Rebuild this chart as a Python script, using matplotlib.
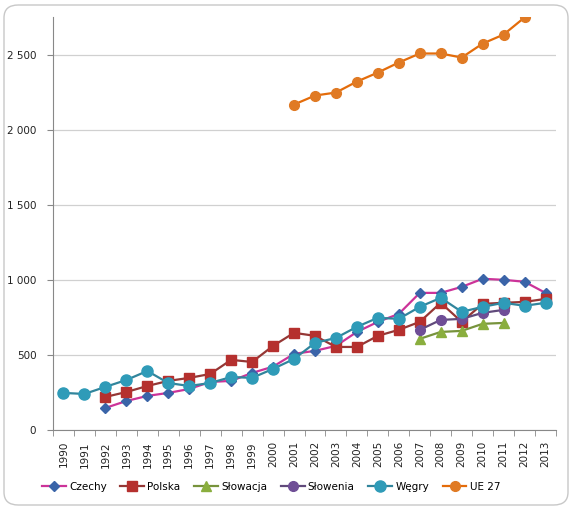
import matplotlib
matplotlib.use("Agg")
import matplotlib.pyplot as plt
import numpy as np
from matplotlib.patches import FancyBboxPatch
from matplotlib.ticker import FuncFormatter, MultipleLocator

plt.rcParams['font.family'] = ['DejaVu Sans']

years = [str(y) for y in range(1990, 2014)]

czechy_years = list(range(1992, 2014))
czechy = [147, 193, 227, 247, 273, 320, 327, 380, 422, 507, 527, 560, 653, 720,
          773, 913, 913, 953, 1007, 1000, 987, 913]

polska_years = list(range(1992, 2014))
polska = [220, 253, 293, 327, 347, 373, 467, 453, 560, 647, 627, 553, 553, 627,
          667, 720, 847, 720, 840, 847, 853, 873]

slowacja_years = list(range(2007, 2012))
slowacja = [607, 653, 660, 707, 713]

slowenia_years = list(range(2007, 2012))
slowenia = [667, 733, 740, 780, 800]

wegry_years = list(range(1990, 2014))
wegry = [247, 240, 287, 333, 393, 313, 293, 313, 353, 347, 407, 473, 580, 613,
         687, 747, 740, 820, 880, 787, 820, 847, 827, 847]

ue_years = list(range(2001, 2013))
ue27 = [2167, 2227, 2247, 2320, 2380, 2447, 2507, 2507, 2480, 2573, 2633, 2747]

series = [
    ("Czechy", czechy_years, czechy, "#CC3399", "#3A64A8", "D", 5),
    ("Polska", polska_years, polska, "#953735", "#B5302E", "s", 7),
    ("Słowacja", slowacja_years, slowacja, "#77933C", "#8AAE3E", "^", 7),
    ("Słowenia", slowenia_years, slowenia, "#604A7B", "#6F4E96", "o", 7),
    ("Węgry", wegry_years, wegry, "#31859C", "#2F9BB8", "o", 8),
    ("UE 27", ue_years, ue27, "#E46C0A", "#E07A24", "o", 7),
]

fig = plt.figure(figsize=(5.72, 5.09), dpi=100)
ax = fig.add_axes([53/572, 1-430/509, (556-53)/572, (430-17)/509])

for name, yrs, vals, lc, mc, mk, ms in series:
    xs = [yrs_i - 1990 for yrs_i in yrs]
    ax.plot(xs, vals, color=lc, lw=1.6, marker=mk, markersize=ms,
            markerfacecolor=mc, markeredgecolor=mc, label=name, zorder=3)

ax.set_xlim(-0.5, len(years) - 0.5)
ax.set_ylim(0, 2750)
ax.yaxis.set_major_locator(MultipleLocator(500))
ax.yaxis.set_major_formatter(FuncFormatter(lambda v, p: f"{int(v):,}".replace(",", " ")))
ax.set_xticks(range(len(years)))
ax.set_xticklabels(years, rotation=90, fontsize=7.5, color="#222222")
ax.set_xticks(np.arange(-0.5, len(years), 1), minor=True)
ax.tick_params(axis='x', which='major', length=0, pad=8)
ax.tick_params(axis='x', which='minor', length=4, color="#888888")
ax.tick_params(axis='y', length=4, color="#888888", labelsize=7.5, labelcolor="#222222", pad=8)
ax.grid(axis='y', color="#D0D0D0", lw=0.9)
ax.set_axisbelow(True)
for s in ['top', 'right']:
    ax.spines[s].set_visible(False)
for s in ['left', 'bottom']:
    ax.spines[s].set_color("#888888")

fig.legend(loc='center', bbox_to_anchor=(271/572, 1-487/509), ncol=6, frameon=False,
           fontsize=7.5, handlelength=2.3, handletextpad=0.3, columnspacing=1.3)

border = FancyBboxPatch((4/572, 4/509), 564/572, 500/509,
                        boxstyle="round,pad=0,rounding_size=0.025",
                        transform=fig.transFigure, facecolor='none',
                        edgecolor="#C8C8C8", lw=1.0)
fig.patches.append(border)

fig.savefig("out.png", dpi=100)
